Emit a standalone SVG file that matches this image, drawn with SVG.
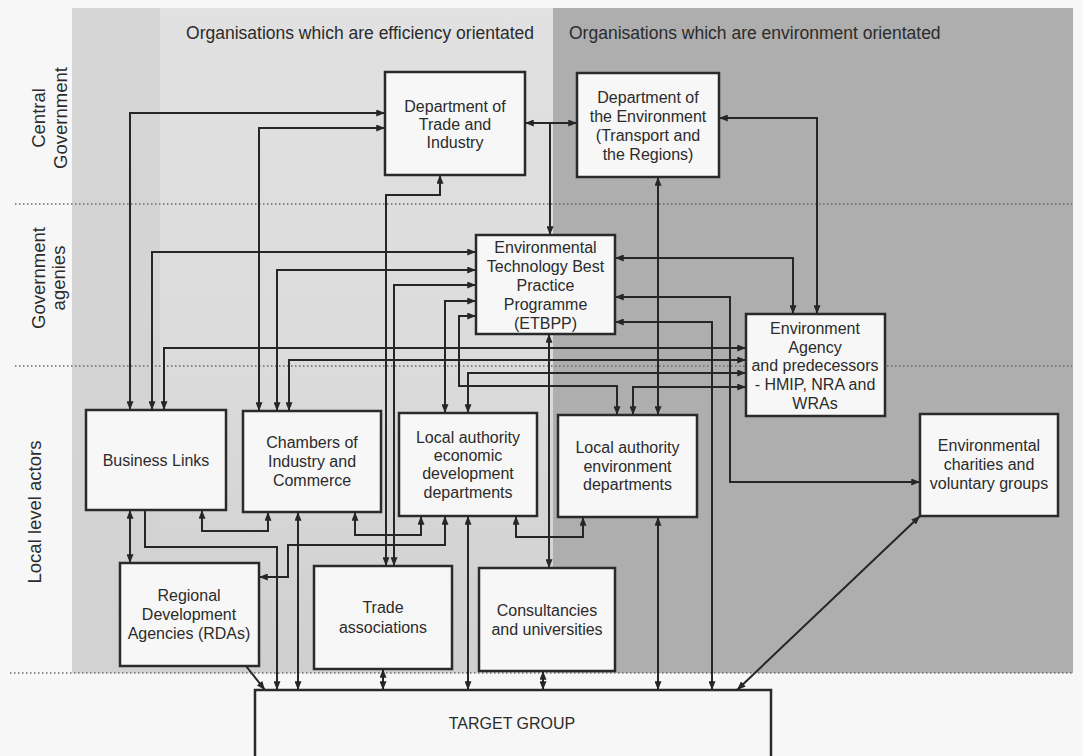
<svg xmlns="http://www.w3.org/2000/svg" width="1083" height="756" viewBox="0 0 1083 756">
<defs>
<style>
.bg0{fill:#f7f7f7}
.n rect{fill:#f7f7f7;stroke:#2a2a2a;stroke-width:2.5}
.n text,.lbl{font-family:"Liberation Sans",Arial,sans-serif;fill:#2b2b2b}
.n text{font-size:16px;text-anchor:middle}
.hdr{font-size:17.5px}
.row{font-size:18.5px;text-anchor:middle}
.c path{fill:none;stroke:#262626;stroke-width:2}
.c .b{marker-start:url(#ah);marker-end:url(#ah)}
.c .e{marker-end:url(#ah)}
.dot{stroke:#6a6a6a;stroke-width:1.6;stroke-dasharray:1.5 2.5;fill:none}
</style>
<marker id="ah" viewBox="0 0 10 8" refX="10" refY="4" markerWidth="9" markerHeight="7" markerUnits="userSpaceOnUse" orient="auto-start-reverse">
<path d="M0,0 L10,4 L0,8 z" fill="#262626"/>
</marker>
<linearGradient id="gm" x1="0" y1="0" x2="0" y2="1">
<stop offset="0" stop-color="#e1e1e1"/>
<stop offset="0.55" stop-color="#dbdbdb"/>
<stop offset="1" stop-color="#cfcfcf"/>
</linearGradient>
<linearGradient id="gl" x1="0" y1="0" x2="0" y2="1">
<stop offset="0" stop-color="#d6d6d6"/>
<stop offset="1" stop-color="#d2d2d2"/>
</linearGradient>
</defs>

<g id="background">
<rect class="bg0" x="0" y="0" width="1083" height="756"/>
<rect x="72" y="8" width="90" height="665" fill="url(#gl)"/>
<rect x="160" y="8" width="394" height="665" fill="url(#gm)"/>
<rect x="553" y="8" width="520" height="665" fill="#aeaeae"/>
<path class="dot" d="M15,204 H1072 M15,366 H1072 M10,673 H1072"/>
</g>

<g id="labels">
<text class="lbl hdr" x="360" y="39" text-anchor="middle">Organisations which are efficiency orientated</text>
<text class="lbl hdr" x="569" y="39">Organisations which are environment orientated</text>
<text class="lbl row" transform="translate(45,118) rotate(-90)">Central</text>
<text class="lbl row" transform="translate(67,118) rotate(-90)">Government</text>
<text class="lbl row" transform="translate(45,278) rotate(-90)">Government</text>
<text class="lbl row" transform="translate(65,278) rotate(-90)">agenies</text>
<text class="lbl row" transform="translate(41,512) rotate(-90)">Local level actors</text>
</g>

<g id="connectors" class="c">
<path class="b" d="M385,113 H130 V410"/>
<path class="b" d="M385,128 H259 V411"/>
<path class="b" d="M440,175 V195 H386 V566"/>
<path class="b" d="M525,123 H577"/>
<path class="e" d="M550,123 V235"/>
<path class="b" d="M719,118 H817 V314"/>
<path class="b" d="M658,177 V415"/>
<path class="b" d="M615,258 H793 V314"/>
<path class="b" d="M615,297 H730 V482 H920"/>
<path class="b" d="M615,322 H712 V690"/>
<path class="b" d="M549,334 V568"/>
<path class="b" d="M152,410 V252 H476"/>
<path class="b" d="M277,411 V270 H476"/>
<path class="b" d="M394,566 V285 H476"/>
<path class="b" d="M445,413 V301 H476"/>
<path class="b" d="M617,415 V386 H459 V316 H476"/>
<path class="b" d="M164,410 V348 H746"/>
<path class="b" d="M289,411 V360 H746"/>
<path class="b" d="M468,413 V373 H746"/>
<path class="b" d="M633,415 V387 H746"/>
<path class="b" d="M130,510 V563"/>
<path class="e" d="M145,510 V547 H277 V690"/>
<path class="b" d="M202,510 V531 H268 V512"/>
<path class="b" d="M298,512 V690"/>
<path class="b" d="M355,512 V535 H421 V516"/>
<path class="b" d="M445,516 V545 H288 V577 H259"/>
<path class="b" d="M468,516 V690"/>
<path class="b" d="M516,516 V537 H583 V517"/>
<path class="b" d="M658,517 V690"/>
<path class="b" d="M383,669 V690"/>
<path class="b" d="M543,671 V690"/>
<path class="e" d="M246,666 L265,690"/>
<path class="b" d="M920,516 L737,690"/>
</g>

<g id="dti" class="n"><rect x="385" y="72" width="140" height="103"/>
<text><tspan x="455" y="112">Department of</tspan><tspan x="455" y="130">Trade and</tspan><tspan x="455" y="148">Industry</tspan></text></g>

<g id="doe" class="n"><rect x="577" y="73" width="142" height="104"/>
<text><tspan x="648" y="103">Department of</tspan><tspan x="648" y="122">the Environment</tspan><tspan x="648" y="141">(Transport and</tspan><tspan x="648" y="160">the Regions)</tspan></text></g>

<g id="etbpp" class="n"><rect x="476" y="235" width="139" height="99"/>
<text><tspan x="545.5" y="253">Environmental</tspan><tspan x="545.5" y="272">Technology Best</tspan><tspan x="545.5" y="291">Practice</tspan><tspan x="545.5" y="310">Programme</tspan><tspan x="545.5" y="329">(ETBPP)</tspan></text></g>

<g id="ea" class="n"><rect x="746" y="314" width="139" height="102"/>
<text><tspan x="815" y="334">Environment</tspan><tspan x="815" y="353">Agency</tspan><tspan x="815" y="371">and predecessors</tspan><tspan x="815" y="390">- HMIP, NRA and</tspan><tspan x="815" y="409">WRAs</tspan></text></g>

<g id="business-links" class="n"><rect x="86" y="410" width="140" height="100"/>
<text><tspan x="156" y="466">Business Links</tspan></text></g>

<g id="chambers" class="n"><rect x="243" y="411" width="138" height="101"/>
<text><tspan x="312" y="448">Chambers of</tspan><tspan x="312" y="467">Industry and</tspan><tspan x="312" y="486">Commerce</tspan></text></g>

<g id="la-econ" class="n"><rect x="399" y="413" width="138" height="103"/>
<text><tspan x="468" y="443">Local authority</tspan><tspan x="468" y="461">economic</tspan><tspan x="468" y="479">development</tspan><tspan x="468" y="498">departments</tspan></text></g>

<g id="la-env" class="n"><rect x="558" y="415" width="139" height="102"/>
<text><tspan x="627.5" y="453">Local authority</tspan><tspan x="627.5" y="472">environment</tspan><tspan x="627.5" y="490">departments</tspan></text></g>

<g id="charities" class="n"><rect x="920" y="414" width="138" height="102"/>
<text><tspan x="989" y="451">Environmental</tspan><tspan x="989" y="470">charities and</tspan><tspan x="989" y="489">voluntary groups</tspan></text></g>

<g id="rdas" class="n"><rect x="120" y="563" width="139" height="103"/>
<text><tspan x="189" y="601">Regional</tspan><tspan x="189" y="620">Development</tspan><tspan x="189" y="639">Agencies (RDAs)</tspan></text></g>

<g id="trade" class="n"><rect x="314" y="566" width="138" height="103"/>
<text><tspan x="383" y="613">Trade</tspan><tspan x="383" y="633">associations</tspan></text></g>

<g id="consultancies" class="n"><rect x="479" y="568" width="136" height="103"/>
<text><tspan x="547" y="616">Consultancies</tspan><tspan x="547" y="635">and universities</tspan></text></g>

<g id="target" class="n"><rect x="255" y="690" width="516" height="70"/>
<text><tspan x="512" y="729">TARGET GROUP</tspan></text></g>
</svg>
